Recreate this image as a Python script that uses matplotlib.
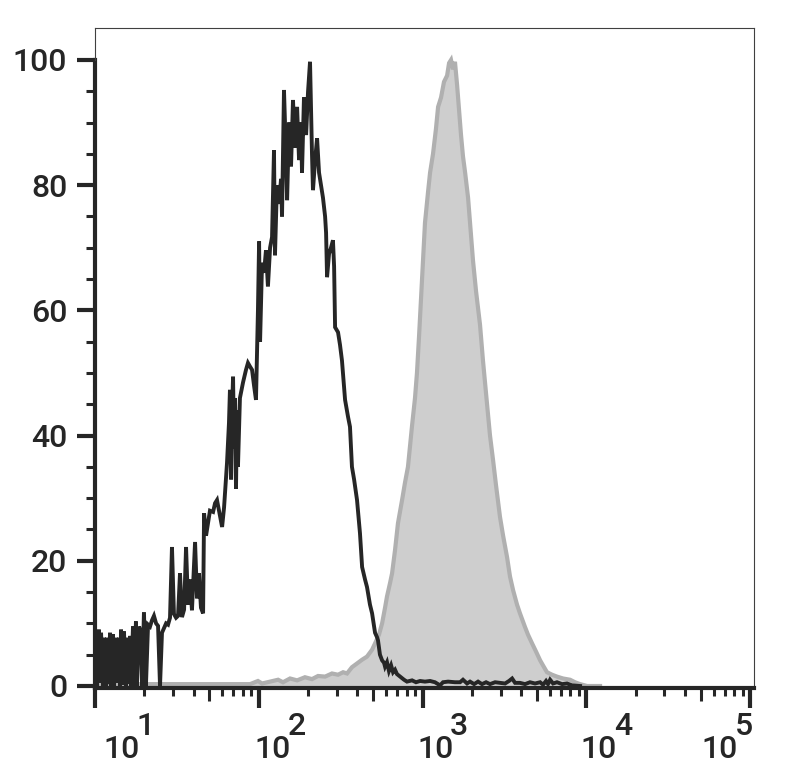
import numpy as np
import matplotlib
matplotlib.use("Agg")
import matplotlib.pyplot as plt
import matplotlib.transforms as mtransforms
from matplotlib.ticker import FixedLocator, NullFormatter

plt.rcParams['font.family'] = ['Roboto', 'DejaVu Sans']
plt.rcParams['font.weight'] = 'medium'

# ---------------- data ----------------
# isotype / unstained control (black outline), x in log10(fluorescence intensity), y in % of max
black_log = [1.006, 1.012, 1.024, 1.031, 1.037, 1.049, 1.055, 1.067, 1.073, 1.079, 1.092, 1.098, 1.110, 1.116,
             1.128, 1.134, 1.147, 1.153, 1.159, 1.171, 1.177, 1.189, 1.195, 1.208, 1.214, 1.220, 1.232, 1.238,
             1.250, 1.256, 1.269, 1.281, 1.287, 1.299, 1.311, 1.324, 1.336, 1.348, 1.360, 1.373, 1.385, 1.397,
             1.409, 1.421, 1.434, 1.446, 1.458, 1.470, 1.482, 1.495, 1.507, 1.519, 1.531, 1.544, 1.556, 1.568,
             1.580, 1.592, 1.611, 1.623, 1.635, 1.647, 1.660, 1.666, 1.678, 1.690, 1.702, 1.721, 1.733, 1.745,
             1.757, 1.776, 1.788, 1.794, 1.806, 1.818, 1.824, 1.831, 1.837, 1.843, 1.849, 1.855, 1.861, 1.867,
             1.873, 1.885, 1.904, 1.922, 1.934, 1.947, 1.959, 1.971, 1.983, 1.995, 2.002, 2.008, 2.020, 2.032,
             2.044, 2.056, 2.069, 2.081, 2.093, 2.099, 2.111, 2.124, 2.136, 2.142, 2.154, 2.166, 2.173, 2.185,
             2.197, 2.209, 2.221, 2.234, 2.246, 2.258, 2.264, 2.276, 2.289, 2.301, 2.313, 2.325, 2.331, 2.344,
             2.356, 2.368, 2.380, 2.392, 2.405, 2.411, 2.417, 2.429, 2.441, 2.453, 2.460, 2.466, 2.484, 2.496,
             2.508, 2.527, 2.545, 2.557, 2.569, 2.582, 2.600, 2.618, 2.631, 2.649, 2.661, 2.679, 2.692, 2.710,
             2.722, 2.728, 2.740, 2.753, 2.765, 2.771, 2.783, 2.795, 2.808, 2.820, 2.832, 2.844, 2.863, 2.887,
             2.905, 2.936, 2.960, 2.985, 3.015, 3.046, 3.076, 3.107, 3.125, 3.156, 3.198, 3.229, 3.247, 3.272,
             3.290, 3.315, 3.339, 3.363, 3.388, 3.412, 3.443, 3.473, 3.504, 3.528, 3.547, 3.565, 3.595, 3.626,
             3.656, 3.687, 3.718, 3.736, 3.754, 3.766, 3.779, 3.797, 3.821, 3.852, 3.882, 3.913, 3.962]
black_pct = [7.5, 0, 9, 0.5, 8.5, 0, 7.7, 0, 7.7, 0.3, 8.5, 0, 8.3, 0,
             7.7, 0.5, 7.7, 0, 9, 0.2, 8.7, 0, 7.7, 0.4, 8, 0, 9.5, 0,
             10.3, 0, 9.5, 8.5, 0, 11.8, 0, 9.8, 9.5, 10.5, 11.2, 10, 9.6, 0,
             8.5, 9.2, 10, 9.8, 10.9, 22.2, 11.5, 10.9, 11.2, 18, 11, 12.2, 22.2, 13,
             17, 12.1, 23, 14, 18, 12.5, 11.6, 27.6, 24, 26, 28, 27.8, 29.2, 29.7,
             28, 25.4, 28.5, 30.8, 35.6, 42, 47.3, 33, 44, 49.4, 38, 46, 31.5, 44,
             35, 46, 48.5, 50.5, 51.6, 51, 50.5, 48, 45.7, 60, 71, 55, 67.6, 66,
             69.6, 63.8, 70, 71.7, 85.6, 68.8, 80, 77, 81, 75, 95.2, 85, 77.6, 90,
             83, 93.6, 86, 92.5, 84, 90, 82, 94, 88, 95, 99.7, 85, 79.2, 84,
             87.5, 82, 80, 78, 75, 72.4, 65.3, 69, 70, 71.2, 67, 57.3, 56.5, 54.5,
             52, 45.7, 43, 41.4, 35, 33, 29.7, 24.4, 19, 17, 15.8, 13, 11.6, 8.5,
             7.8, 7.3, 5, 4.1, 3.7, 3.1, 3.8, 2.4, 3.3, 2.2, 2.6, 1.9, 1.5, 1.0,
             0.7, 0.9, 0.6, 0.8, 0.7, 0.8, 0.6, 0.1, 0.6, 0.7, 0.6, 0.6, 1.0, 0.4,
             0.7, 0.3, 0.7, 0.3, 0.6, 0.3, 0.6, 0.5, 0.4, 0.8, 1.2, 0.5, 0.5, 0.3,
             0.6, 0.4, 0.6, 0.2, 0.8, 0.3, 1.0, 0.4, 0.6, 0.3, 0.4, 0.1, 0]

# stained sample (gray filled)
gray_log = [1.006, 1.336, 1.641, 1.947, 1.995, 2.020, 2.069, 2.118, 2.148, 2.191, 2.234, 2.282, 2.325, 2.362,
            2.405, 2.447, 2.484, 2.515, 2.539, 2.569, 2.600, 2.631, 2.661, 2.692, 2.710, 2.734, 2.753, 2.771,
            2.783, 2.802, 2.814, 2.832, 2.850, 2.875, 2.893, 2.911, 2.936, 2.954, 2.966, 2.979, 2.991, 3.003,
            3.015, 3.034, 3.046, 3.064, 3.082, 3.095, 3.113, 3.131, 3.150, 3.162, 3.174, 3.186, 3.198, 3.211,
            3.223, 3.235, 3.247, 3.260, 3.278, 3.290, 3.308, 3.327, 3.351, 3.369, 3.394, 3.412, 3.431, 3.449,
            3.473, 3.492, 3.516, 3.534, 3.553, 3.577, 3.595, 3.626, 3.644, 3.669, 3.693, 3.718, 3.742, 3.760,
            3.791, 3.821, 3.858, 3.901, 3.931, 3.962, 4.005, 4.084]
gray_pct = [0.3, 0.3, 0.3, 0.3, 0.8, 0.4, 0.7, 1.0, 0.6, 1.2, 0.9, 1.4, 1.1, 1.6,
            1.5, 2.0, 1.8, 2.2, 2.0, 3.0, 3.6, 4.2, 4.7, 5.8, 6.8, 8.2, 10, 12.5,
            14.3, 16.5, 18, 21.7, 26, 29.7, 32.5, 35, 41.6, 46, 50, 56, 62, 68,
            74, 79, 82, 85, 89, 92.5, 94, 96.5, 97.5, 99.5, 100, 98.5, 99.7, 96,
            92, 88, 84.6, 82, 78, 74, 68, 63, 57.7, 52, 45, 40, 36, 32,
            27, 24, 20.6, 17.5, 15.3, 13, 11.6, 9.4, 8.2, 6.8, 5.5, 4.1, 3.0, 2.2,
            1.8, 1.5, 1.2, 1.0, 0.6, 0.3, 0, 0]

x_decades = [1, 2, 3, 4, 5]
x_tick_base = "10"
y_major = [0, 20, 40, 60, 80, 100]
y_minor = [5, 10, 15, 25, 30, 35, 45, 50, 55, 65, 70, 75, 85, 90, 95]

# ---------------- figure ----------------
W, H, DPI = 787, 773, 100
fig = plt.figure(figsize=(W / DPI, H / DPI), dpi=DPI)
ax = fig.add_axes([95 / W, (H - 688) / H, (754 - 95) / W, (688 - 28) / H])

gx = 10 ** np.array(gray_log)
bx = 10 ** np.array(black_log)

ax.fill_between(gx, gray_pct, 0, color='#cecece', lw=0, zorder=1)
ax.plot(gx, gray_pct, color='#b0b0b0', lw=3.0, zorder=2, solid_joinstyle='miter')
ax.plot(bx, black_pct, color='#262626', lw=2.8, zorder=3, solid_joinstyle='miter')

ax.set_xscale('log')
ax.set_xlim(10, 10 ** 5.024)
ax.set_ylim(-0.32, 105.1)

dark = '#262626'
for s in ['top', 'right']:
    ax.spines[s].set_linewidth(0.8)
    ax.spines[s].set_color('#404040')
ax.spines['left'].set_linewidth(3.0)
ax.spines['left'].set_color(dark)
ax.spines['left'].set_bounds(-0.32, 100)
ax.spines['bottom'].set_linewidth(3.0)
ax.spines['bottom'].set_color(dark)
ax.plot([0, 0], [100, 105.1], transform=ax.get_yaxis_transform(), color='#404040',
        lw=0.8, clip_on=False, zorder=5)

# y ticks
ax.yaxis.set_major_locator(FixedLocator(y_major))
ax.yaxis.set_minor_locator(FixedLocator(y_minor))
ax.yaxis.set_minor_formatter(NullFormatter())
ax.tick_params(axis='y', which='major', length=13, width=3.0, color=dark, pad=7,
               labelsize=23, labelcolor=dark)
ax.tick_params(axis='y', which='minor', length=6.5, width=2.2, color=dark)

# x ticks
ax.xaxis.set_major_locator(FixedLocator([10.0 ** d for d in x_decades]))
minor_x = [k * 10.0 ** d for d in x_decades[:-1] for k in (2, 3, 4, 6, 7, 8, 9)]
ax.xaxis.set_minor_locator(FixedLocator(minor_x))
ax.xaxis.set_minor_formatter(NullFormatter())
ax.set_xticklabels([x_tick_base] * len(x_decades))
ax.tick_params(axis='x', which='major', length=14.4, width=3.0, color=dark, pad=19.4,
               labelsize=23, labelcolor=dark)
ax.tick_params(axis='x', which='minor', length=6.0, width=2.2, color=dark)

sec = ax.secondary_xaxis('bottom')
sec.set_xscale('log')
sec.xaxis.set_major_locator(FixedLocator([5 * 10.0 ** d for d in x_decades[:-1]]))
sec.xaxis.set_minor_locator(FixedLocator([]))
sec.tick_params(axis='x', which='major', length=9.4, width=2.2, color=dark, labelbottom=False)
sec.spines['bottom'].set_visible(False)

# horizontal label offsets (px) for "10" text, and exponent digits
label_dx = [8.5, -4.5, -5.5, -5.5, -48.5]
for lab, dx in zip(ax.get_xticklabels(), label_dx):
    lab.set_horizontalalignment('left')
    lab.set_transform(lab.get_transform() +
                      mtransforms.ScaledTranslation(dx / DPI, 0, fig.dpi_scale_trans))

for d, dx in zip(x_decades, label_dx):
    ax.annotate(str(d), xy=(10.0 ** d, 0), xycoords=('data', 'axes fraction'),
                xytext=((dx + 33) * 0.72, -47 * 0.72), textcoords='offset points',
                ha='left', va='baseline', fontsize=23, color=dark, annotation_clip=False)

fig.savefig('out.png', dpi=DPI)
